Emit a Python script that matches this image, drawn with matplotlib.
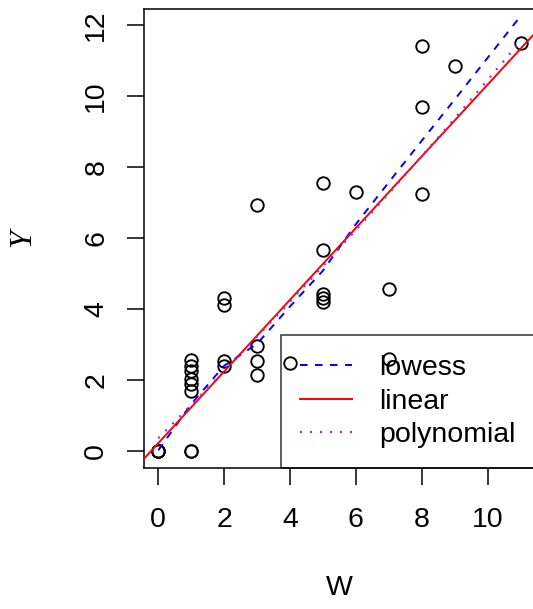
import numpy as np
import matplotlib
matplotlib.use("Agg")
import matplotlib.pyplot as plt

# ---- data ----
W = [0, 0, 0,
     1, 1, 1, 1, 1, 1, 1, 1,
     2, 2, 2, 2,
     3, 3, 3, 3,
     4,
     5, 5, 5, 5, 5,
     6,
     7, 7,
     8, 8, 8,
     9,
     11]
Y = [0, 0, 0,
     0, 0, 1.70, 1.88, 2.02, 2.25, 2.39, 2.56,
     2.38, 2.52, 4.11, 4.31,
     2.13, 2.53, 2.97, 6.92,
     2.49,
     4.20, 4.31, 4.43, 5.67, 7.55,
     7.28,
     2.58, 4.55,
     7.24, 9.70, 11.40,
     10.85,
     11.50]

lowess_x = [0, 1, 2, 3, 4, 5, 6, 7, 8, 9, 11]
lowess_y = [0.02, 1.32, 2.40, 3.02, 4.07, 5.08, 6.39, 7.57, 8.74, 9.90, 12.25]

linear_coef = [1.01, 0.22]          # slope, intercept
poly_coef = [0.0079, 0.930, 0.36]   # quadratic, linear, constant

xticks = [0, 2, 4, 6, 8, 10]
yticks = [0, 2, 4, 6, 8, 10, 12]
legend_labels = ["lowess", "linear", "polynomial"]

# ---- figure ----
plt.rcParams["font.family"] = ["Liberation Sans", "DejaVu Sans"]
plt.rcParams["lines.scale_dashes"] = False
FS = 20.5
W_PX, H_PX = 533, 609
fig = plt.figure(figsize=(W_PX / 100, H_PX / 100), dpi=100)
left, right, top, bottom = 143.8, 535.1, 9.3, 468.0
ax = fig.add_axes([left / W_PX, 1 - bottom / H_PX,
                   (right - left) / W_PX, (bottom - top) / H_PX])

ax.plot(W, Y, linestyle="none", marker="o", markersize=9.0,
        markerfacecolor="none", markeredgecolor="black", markeredgewidth=1.35,
        zorder=2)

xlim = (-0.44, 11.44)
ylim = (-0.48, 12.44)

l1, = ax.plot(lowess_x, lowess_y, color="blue", lw=1.4,
              dashes=(5.4, 5.4), zorder=3)
xx = np.array(xlim)
l2, = ax.plot(xx, np.polyval(linear_coef, xx), color="red", lw=1.4, zorder=3)
xp = np.linspace(min(W), max(W), 200)
l3, = ax.plot(xp, np.polyval(poly_coef, xp), color="#A020F0", lw=1.6,
              dashes=(1.4, 5.8), zorder=3)

ax.set_xlim(*xlim)
ax.set_ylim(*ylim)
ax.set_xticks(xticks)
ax.set_yticks(yticks)
ax.set_xticklabels([str(t) for t in xticks])
ax.set_yticklabels([str(t) for t in yticks], rotation=90, va="center")
ax.tick_params(axis="both", labelsize=FS, length=12.3, width=1.1,
               direction="out", colors="black")
ax.tick_params(axis="x", pad=16)
ax.tick_params(axis="y", pad=12.5)
for s in ax.spines.values():
    s.set_linewidth(1.1)

leg = ax.legend([l1, l2, l3], legend_labels, loc="lower right",
                bbox_to_anchor=(1, 0), bbox_transform=ax.transAxes,
                borderaxespad=0, fontsize=FS, frameon=True, fancybox=False,
                handlelength=1.82, handletextpad=0.95, labelspacing=0.27,
                borderpad=0.69)
leg.get_frame().set_facecolor("none")
leg.get_frame().set_edgecolor("black")
leg.get_frame().set_linewidth(1.1)

fig.text(339.5 / W_PX, 1 - 588 / H_PX, "W", ha="center", va="center",
         fontsize=FS)
fig.text(22.5 / W_PX, 1 - 238 / H_PX, "Y", ha="center", va="center",
         rotation=90, fontsize=23, family=["Liberation Serif"],
         style="italic")

fig.savefig("out.png", dpi=100)
